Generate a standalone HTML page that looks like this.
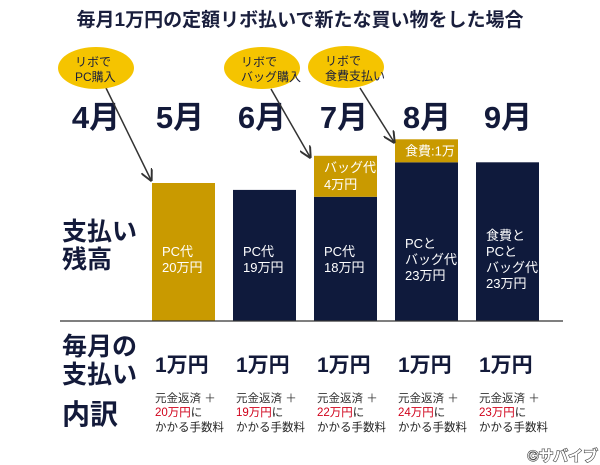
<!DOCTYPE html>
<html><head><meta charset="utf-8"><style>
body{margin:0;background:#fff}
svg{display:block;font-family:"Liberation Sans","Noto Sans CJK JP",sans-serif}
</style></head><body>
<svg width="600" height="465" viewBox="0 0 600 465">
<text x="300" y="26" text-anchor="middle" font-size="19" font-weight="bold" fill="#1a1f3d">毎月1万円の定額リボ払いで新たな買い物をした場合</text>
<g id="g"></g>
</svg>
<script>
const months=["4月","5月","6月","7月","8月","9月"];
const monthX=[96,180,262,344,427,508];
const balances=[20,19,18,23,23];
const addons=[0,0,4,1,0];
const baseColors=["#c99a00","#0f1a3c","#0f1a3c","#0f1a3c","#0f1a3c"];
const barLabels=[["PC代","20万円"],["PC代","19万円"],["PC代","18万円"],["PCと","バッグ代","23万円"],["食費と","PCと","バッグ代","23万円"]];
const addonLabels=[[],[],["バッグ代","4万円"],["食費:1万"],[]];
const payments=["1万円","1万円","1万円","1万円","1万円"];
const feeBase=["20万円","19万円","22万円","24万円","23万円"];
const NS="http://www.w3.org/2000/svg",g=document.getElementById('g');
function el(t,a,txt){const e=document.createElementNS(NS,t);for(const k in a)e.setAttribute(k,a[k]);if(txt!=null)e.textContent=txt;g.appendChild(e);return e;}
const base=321,unit=6.9,barW=63;
function bx(i){return 152+i*81;}
months.forEach((m,i)=>{const e=el('text',{x:monthX[i],y:128,'text-anchor':'middle','font-size':31,'font-weight':'bold',fill:'#131a3a'},m);
});
balances.forEach((v,i)=>{
 const x=bx(i),h=v*unit,top=base-h;
 const r=el('rect',{x:x,y:top,width:barW,height:h,fill:baseColors[i]});
 
 const L=barLabels[i],ly=272-8*L.length;
 L.forEach((t,j)=>{const e=el('text',{x:x+10,y:ly+j*16,'font-size':13,fill:'#fff'},t);});
 if(addons[i]>0){const ah=17+addons[i]*6,at=top-ah;
  const a=el('rect',{x:x,y:at,width:barW,height:ah,fill:'#c99a00'});
  
  addonLabels[i].forEach((t,j)=>{const e=el('text',{x:x+10,y:at+16+j*17,'font-size':13,fill:'#fff'},t);});}
 const p=el('text',{x:x+3,y:372,'font-size':21,'font-weight':'bold',fill:'#131a3a'},payments[i]);
 
 const f1=el('text',{x:x+3,y:402,'font-size':11.5,fill:'#333'},'元金返済 ＋');
 const f2=el('text',{x:x+3,y:416,'font-size':11.5,fill:'#222'});
 const s=document.createElementNS(NS,'tspan');s.setAttribute('fill','#d0021b');s.textContent=feeBase[i];f2.appendChild(s);
 const s2=document.createElementNS(NS,'tspan');s2.textContent='に';f2.appendChild(s2);
 const f3=el('text',{x:x+3,y:431,'font-size':11.5,fill:'#222'},'かかる手数料');
});
const ln=el('line',{x1:60,y1:321,x2:563,y2:321,stroke:'#333','stroke-width':1.2});

[["支払い",240],["残高",268]].forEach(a=>{const e=el('text',{x:62,y:a[1],'font-size':25,'font-weight':'bold',fill:'#131a3a'},a[0]);});
[["毎月の",355],["支払い",383]].forEach(a=>{const e=el('text',{x:62,y:a[1],'font-size':25,'font-weight':'bold',fill:'#131a3a'},a[0]);});
const nz=el('text',{x:62,y:424,'font-size':28,fill:'#131a3a','font-weight':'bold'},'内訳');
const bubbles=[[96,68,"リボで","PC購入",106,88,151,180],[262,68,"リボで","バッグ購入",271,89,310,157],[346,67,"リボで","食費支払い",360,88,394,142]];
const defs=document.createElementNS(NS,'defs');defs.innerHTML='<marker id="ah" markerWidth="8" markerHeight="8" refX="7" refY="4" orient="auto"><path d="M0,0 L8,4 L0,8" fill="none" stroke="#333" stroke-width="1.3"/></marker>';g.appendChild(defs);
bubbles.forEach(b=>{
 const ar=el('line',{x1:b[4],y1:b[5],x2:b[6],y2:b[7],stroke:'#333','stroke-width':1.5,'marker-end':'url(#ah)'});
 const e=el('ellipse',{cx:b[0],cy:b[1],rx:38,ry:21,fill:'#f5c400'});
 const t1=el('text',{x:b[0]-21,y:b[1]-2,'font-size':12,fill:'#1a1f3d'},b[2]);
 const t2=el('text',{x:b[0]-21,y:b[1]+13,'font-size':12,fill:'#1a1f3d'},b[3]);
});
const wm=el('text',{x:598,y:461,'text-anchor':'end','font-size':15,'font-weight':'bold',fill:'#fff',stroke:'#444','stroke-width':1.2,'paint-order':'stroke'},'©サバイブ');

</script>
</body></html>
